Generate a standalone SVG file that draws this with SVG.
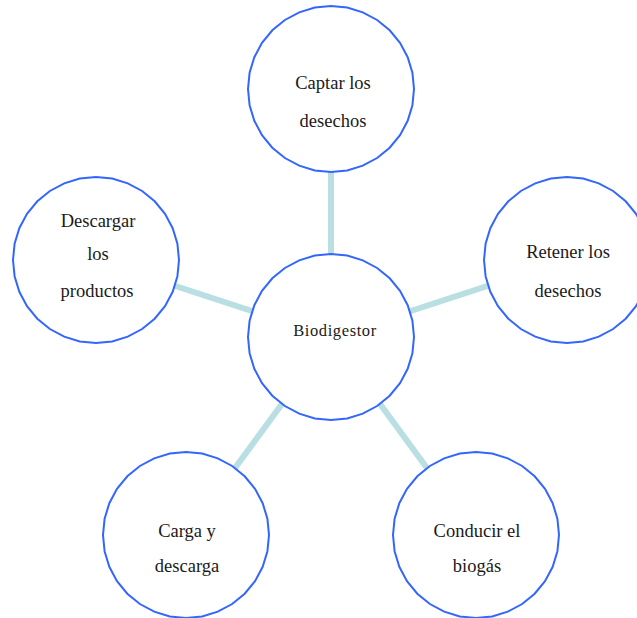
<svg xmlns="http://www.w3.org/2000/svg" width="637" height="618" viewBox="0 0 637 618">
<style>
.edge{stroke:#b9dfe3;stroke-width:6;fill:none}
.node{fill:#ffffff;stroke:#3366ff;stroke-width:2}
.lbl{font-family:"Liberation Serif","Times New Roman",serif;font-size:18.5px;fill:#1a1a1a;text-anchor:middle}
.ctr{font-family:"Liberation Serif","Times New Roman",serif;font-size:16.5px;letter-spacing:0.6px;fill:#1a1a1a;text-anchor:middle}
</style>
<defs>
<polygon id="ring" points="83,0 81.41,16.19 76.68,31.76 69.01,46.11 58.69,58.69 46.11,69.01 31.76,76.68 16.19,81.41 0,83 -16.19,81.41 -31.76,76.68 -46.11,69.01 -58.69,58.69 -69.01,46.11 -76.68,31.76 -81.41,16.19 -83,0 -81.41,-16.19 -76.68,-31.76 -69.01,-46.11 -58.69,-58.69 -46.11,-69.01 -31.76,-76.68 -16.19,-81.41 0,-83 16.19,-81.41 31.76,-76.68 46.11,-69.01 58.69,-58.69 69.01,-46.11 76.68,-31.76 81.41,-16.19"/>
</defs>
<rect width="637" height="618" fill="#ffffff"/>
<g id="connectors">
<line class="edge" x1="331" y1="337" x2="331" y2="89"/>
<line class="edge" x1="331" y1="337" x2="96" y2="260"/>
<line class="edge" x1="331" y1="337" x2="567" y2="260"/>
<line class="edge" x1="331" y1="337" x2="186" y2="535"/>
<line class="edge" x1="331" y1="337" x2="476" y2="535"/>
</g>
<g id="n-center">
<use href="#ring" class="node" transform="translate(331,337)"/>
<text class="ctr" x="335" y="336">Biodigestor</text>
</g>
<g id="n-top">
<use href="#ring" class="node" transform="translate(331,89)"/>
<text class="lbl" x="333" y="89">Captar los</text>
<text class="lbl" x="333" y="126.5">desechos</text>
</g>
<g id="n-left">
<use href="#ring" class="node" transform="translate(96,260)"/>
<text class="lbl" x="98" y="226.5">Descargar</text>
<text class="lbl" x="98" y="259.5">los</text>
<text class="lbl" x="97" y="296.5">productos</text>
</g>
<g id="n-right">
<use href="#ring" class="node" transform="translate(567,260)"/>
<text class="lbl" x="568" y="258">Retener los</text>
<text class="lbl" x="568" y="296.5">desechos</text>
</g>
<g id="n-bl">
<use href="#ring" class="node" transform="translate(186,535)"/>
<text class="lbl" x="187" y="537">Carga y</text>
<text class="lbl" x="187" y="572">descarga</text>
</g>
<g id="n-br">
<use href="#ring" class="node" transform="translate(476,535)"/>
<text class="lbl" x="477" y="537">Conducir el</text>
<text class="lbl" x="477" y="572">biogás</text>
</g>
</svg>
